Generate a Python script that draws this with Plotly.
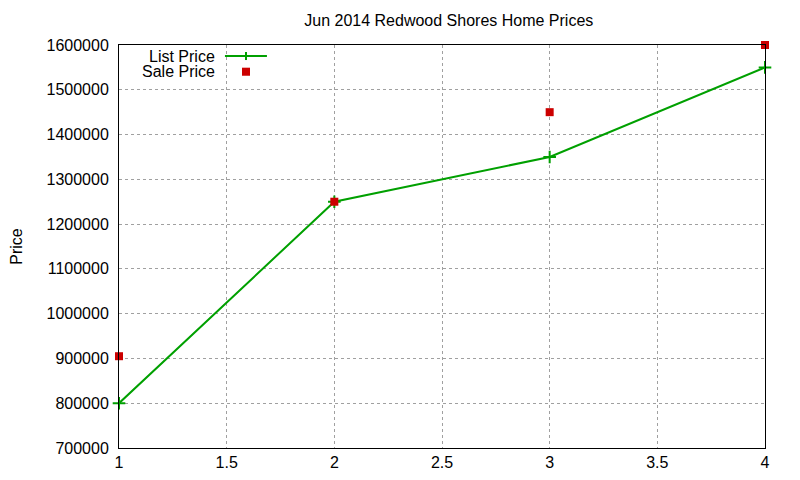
import plotly.graph_objects as go

x_vals = [1, 2, 3, 4]
list_price = [800000, 1250000, 1350000, 1550000]
sale_price = [905000, 1250000, 1450000, 1600000]
x_ticks = [1, 1.5, 2, 2.5, 3, 3.5, 4]
x_labels = ["1", "1.5", "2", "2.5", "3", "3.5", "4"]
y_ticks = [700000, 800000, 900000, 1000000, 1100000, 1200000, 1300000, 1400000, 1500000, 1600000]

GREEN = "#00a000"
RED = "#cc0000"
FONT = "Liberation Sans"
FS = 16

fig = go.Figure()
fig.add_trace(go.Scatter(x=x_vals, y=list_price, mode="lines+markers", name="List Price",
                         line=dict(color=GREEN, width=2),
                         marker=dict(symbol="cross-thin", size=9, line=dict(color=GREEN, width=2)),
                         showlegend=False, cliponaxis=False))
fig.add_trace(go.Scatter(x=x_vals, y=sale_price, mode="markers", name="Sale Price",
                         marker=dict(symbol="square", size=8, color=RED),
                         showlegend=False, cliponaxis=False))

axis_common = dict(showline=True, linecolor="black", linewidth=1, mirror=True, automargin=False,
                   ticks="", showgrid=True, gridcolor="#a0a0a0", griddash="dot", gridwidth=1,
                   zeroline=False, tickfont=dict(family=FONT, size=FS, color="black"))

fig.update_xaxes(range=[1, 4], tickvals=x_ticks, ticktext=x_labels, ticklabelstandoff=0, **axis_common)
fig.update_yaxes(range=[700000, 1600000], tickvals=y_ticks, tickformat="d", ticklabelstandoff=6,
                 title=dict(text="Price", font=dict(family=FONT, size=FS, color="black"), standoff=26),
                 **axis_common)

# legend (gnuplot style: text on left, sample on right)
shapes = [
    dict(type="line", xref="paper", yref="paper", x0=0.164, x1=0.229, y0=0.9727, y1=0.9727,
         line=dict(color=GREEN, width=2)),
    dict(type="line", xref="paper", yref="paper", x0=0.1966, x1=0.1966, y0=0.9627, y1=0.9827,
         line=dict(color=GREEN, width=2)),
    dict(type="rect", xref="paper", yref="paper", x0=0.1904, x1=0.2028, y0=0.9237, y1=0.9437,
         fillcolor=RED, line=dict(width=0)),
]
annotations = [
    dict(text="List Price", xref="paper", yref="paper", x=0.1517, y=0.9727, xanchor="right",
         yanchor="middle", showarrow=False, font=dict(family=FONT, size=FS, color="black")),
    dict(text="Sale Price", xref="paper", yref="paper", x=0.1517, y=0.9337, xanchor="right",
         yanchor="middle", showarrow=False, font=dict(family=FONT, size=FS, color="black")),
]

fig.update_layout(
    width=800, height=480,
    margin=dict(l=111, r=43, t=37, b=40, autoexpand=False),
    paper_bgcolor="white", plot_bgcolor="white",
    title=dict(text="Jun 2014 Redwood Shores Home Prices", x=0.551, xanchor="center",
               y=1 - 12 / 480, yanchor="middle", font=dict(family=FONT, size=FS, color="black")),
    shapes=shapes, annotations=annotations,
)

fig.write_html("out.html")
